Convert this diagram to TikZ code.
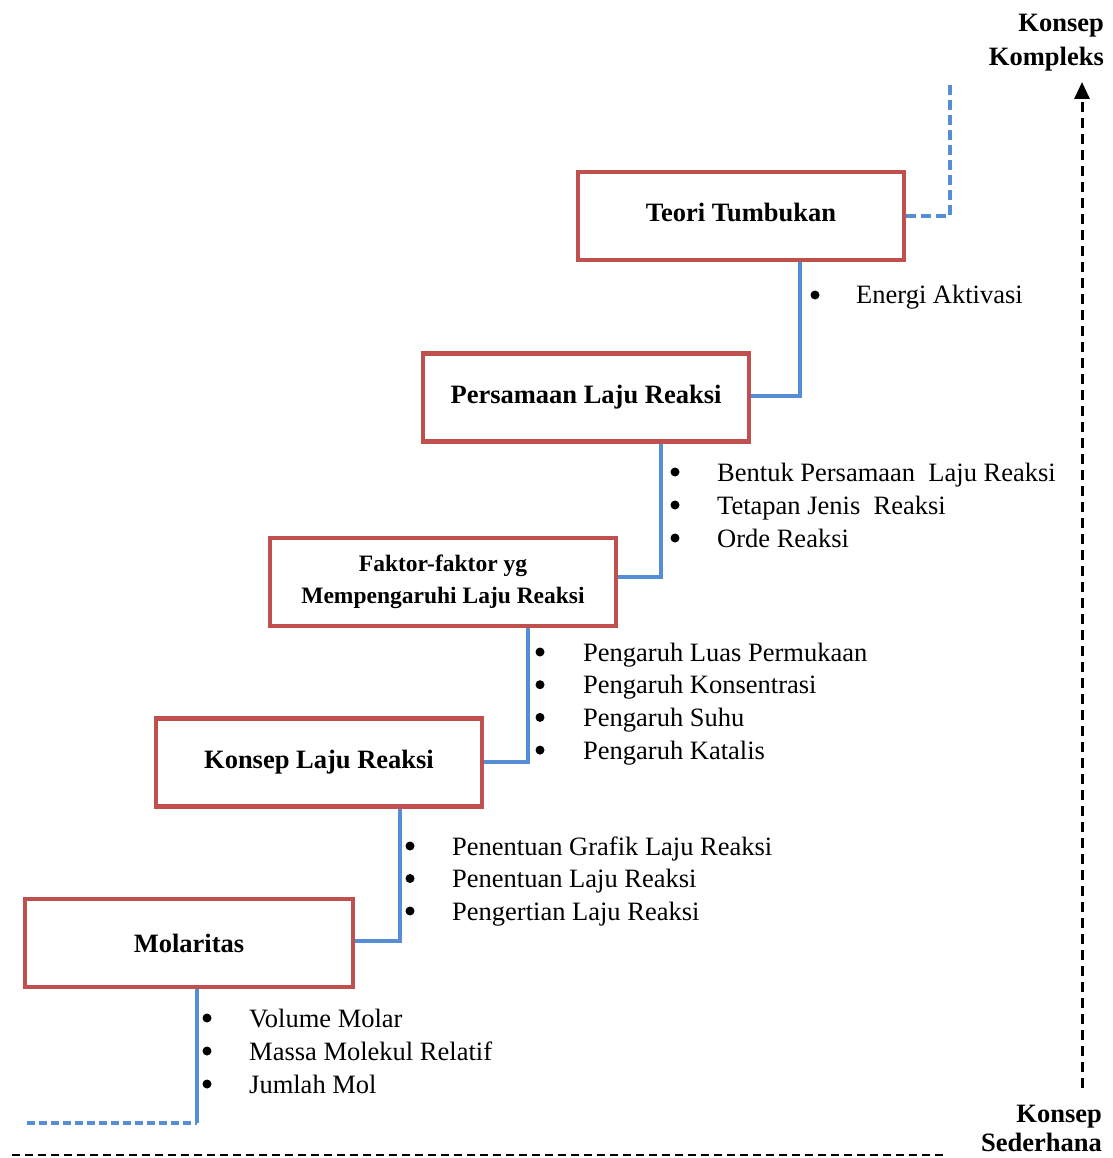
\documentclass[tikz,border=0pt]{standalone}
\usepackage{fontspec}
\setmainfont{Liberation Serif}
\usetikzlibrary{arrows.meta}
\definecolor{boxred}{HTML}{C0504D}
\definecolor{linkblue}{HTML}{558ED5}
\begin{document}
\begin{tikzpicture}[x=1pt,y=-1pt,
  stagebox/.style={draw=boxred,line width=4.5pt,fill=white,minimum width=326pt,minimum height=88pt,
    align=center,font=\fontsize{26.5}{34}\selectfont\bfseries,inner sep=0pt},
  link/.style={draw=linkblue,line width=3.5pt},
  linkdash/.style={link,dash pattern=on 10pt off 5pt},
  item/.style={anchor=base west,inner sep=0pt,font=\fontsize{26.5}{34}\selectfont},
  dot/.style={circle,fill=black,minimum size=9pt,inner sep=0pt},
  sidelabel/.style={anchor=north east,align=right,inner sep=0pt,font=\fontsize{26.5}{34}\selectfont\bfseries}]
\useasboundingbox (0,0) rectangle (1112,1158);

% concept boxes, simplest at the bottom
\node[stagebox,minimum width=328pt] (mol) at (189,943) {Molaritas};
\node[stagebox] (konsep) at (319,762.5) {Konsep Laju Reaksi};
\node[stagebox,minimum width=346pt,font=\fontsize{23.5}{32}\selectfont\bfseries] (faktor) at (443,582) {Faktor-faktor yg\\Mempengaruhi Laju Reaksi};
\node[stagebox] (persamaan) at (586,397.5) {Persamaan Laju Reaksi};
\node[stagebox,text depth=8pt] (teori) at (741,216) {Teori Tumbukan};

% stair connectors
\coordinate (start) at (27,1123);
\coordinate (s0) at (197,1123);
\draw[linkdash,dash pattern=on 8pt off 4pt] (start) -- (s0);
\draw[link] (s0) -- (s0 |- mol.south);

\coordinate (s1) at (400,941);
\draw[link] (mol.east |- s1) -- (s1) -- (s1 |- konsep.south);
\coordinate (s2) at (528,762);
\draw[link] (konsep.east |- s2) -- (s2) -- (s2 |- faktor.south);
\coordinate (s3) at (661,577);
\draw[link] (faktor.east |- s3) -- (s3) -- (s3 |- persamaan.south);
\coordinate (s4) at (800,396);
\draw[link] (persamaan.east |- s4) -- (s4) -- (s4 |- teori.south);
\coordinate (s5) at (950,216);
\coordinate (top) at (950,84);
\draw[linkdash] (teori.east |- s5) -- (s5) -- (top);

% sub-topics of each step
\foreach \txt [count=\i] in {Volume Molar,Massa Molekul Relatif,Jumlah Mol}{
  \node[dot] (molb\i) at (207,1018+33*\i-33) {};
  \node[item] (molt\i) at (249,1027+33*\i-33) {\txt};
}
\foreach \txt [count=\i] in {Penentuan Grafik Laju Reaksi,Penentuan Laju Reaksi,Pengertian Laju Reaksi}{
  \node[dot] (konb\i) at (410,846+32.5*\i-32.5) {};
  \node[item] (kont\i) at (452,855+32.5*\i-32.5) {\txt};
}
\foreach \txt [count=\i] in {Pengaruh Luas Permukaan,Pengaruh Konsentrasi,Pengaruh Suhu,Pengaruh Katalis}{
  \node[dot] (fakb\i) at (540,652+32.7*\i-32.7) {};
  \node[item] (fakt\i) at (583,661+32.7*\i-32.7) {\txt};
}
\foreach \txt [count=\i] in {Bentuk Persamaan\ \ Laju Reaksi,Tetapan Jenis\ \ Reaksi,Orde Reaksi}{
  \node[dot] (perb\i) at (675,472+33*\i-33) {};
  \node[item] (pert\i) at (717,481+33*\i-33) {\txt};
}
\node[dot] (teob1) at (815,295) {};
\node[item] (teot1) at (856,303) {Energi Aktivasi};

% direction from simple to complex
\coordinate (axbot) at (1082,1088);
\node[sidelabel] (complex) at (1104,14) {Konsep\\Kompleks};
\coordinate (axtop) at (1082,82);
\draw[line width=3pt,dash pattern=on 10pt off 6pt,-{Triangle[length=17pt,width=15pt]}] (axbot) -- (axtop);
\node[sidelabel,font=\fontsize{26.5}{29}\selectfont\bfseries] (simple) at (1102,1105) {Konsep\\Sederhana};
\coordinate (baseA) at (12,1155);
\coordinate (baseB) at (945,1155);
\draw[line width=1.5pt,dash pattern=on 8pt off 5pt] (baseA) -- (baseB);
\end{tikzpicture}
\end{document}
